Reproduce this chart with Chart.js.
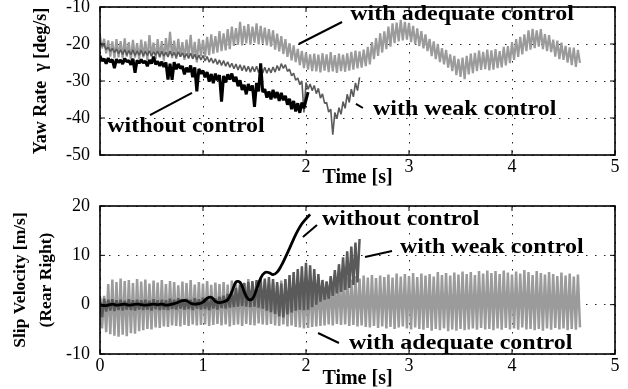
<!DOCTYPE html>
<html>
<head>
<meta charset="utf-8">
<script src="https://cdn.jsdelivr.net/npm/chart.js@4/dist/chart.umd.min.js"></script>
<style>
html, body { margin: 0; padding: 0; background: #fff; }
.caja { position: absolute; left: 0; width: 628px; }
#cajaSuperior { top: 0; height: 190px; }
#cajaInferior { top: 190px; height: 199px; }
</style>
</head>
<body>
<div class="caja" id="cajaSuperior"><canvas id="graficoYaw"></canvas></div>
<div class="caja" id="cajaInferior"><canvas id="graficoDeslizamiento"></canvas></div>
<script>

// muestreo de las senales (s)
const paso = 0.02;
const pasoSuave = 0.04;

const ticksTiempo = [0, 1, 2, 3, 4, 5];
const ticksYaw = [-50, -40, -30, -20, -10];
const ticksDesliz = [-10, 0, 10, 20];

const series = ["without control", "with weak control", "with adequate control"];

// Yaw rate [deg/s]
const yawSinControl = [
    -23.2, -24.6, -24.0, -25.3, -23.8, -24.9, -24.2, -26.5, -24.1, -25.0,
    -24.3, -25.4, -23.9, -24.8, -24.5, -25.6, -24.0, -27.8, -24.4, -25.2,
    -24.2, -25.1, -24.6, -26.0, -24.3, -25.3, -23.4, -25.5, -24.7, -25.9,
    -24.8, -26.2, -25.0, -29.6, -25.3, -29.7, -24.9, -26.8, -25.4, -26.6,
    -26.0, -28.2, -26.4, -27.6, -25.8, -29.0, -26.3, -32.8, -26.7, -28.0,
    -27.2, -29.0, -27.6, -30.2, -28.1, -30.6, -28.0, -29.8, -28.4, -35.6,
    -28.6, -30.4, -28.2, -29.6, -28.0, -30.2, -28.9, -31.4, -29.8, -32.4,
    -31.0, -33.6, -30.8, -32.6, -31.2, -37.0, -30.5, -32.8, -25.2, -33.0,
    -32.2, -34.5, -32.8, -35.0, -32.4, -34.6, -33.0, -35.4, -33.2, -35.2,
    -34.0, -36.4, -34.8, -37.6, -35.4, -38.2, -36.0, -38.6, -35.8, -37.4,
    -35.2, -33.0
];

const yawControlDebil = [
    -19.5, -20.6, -20.3, -21.5, -20.9, -22.0, -21.2, -22.3, -21.4, -22.6,
    -21.6, -22.8, -21.5, -23.0, -21.8, -22.9, -21.6, -23.1, -21.9, -23.0,
    -21.7, -23.2, -22.0, -23.1, -21.8, -23.3, -22.1, -23.0, -21.9, -23.4,
    -22.0, -23.3, -22.2, -23.5, -21.9, -23.2, -22.3, -23.6, -22.1, -23.4,
    -22.4, -23.7, -22.6, -23.9, -22.5, -24.0, -22.8, -24.2, -23.0, -24.3,
    -23.1, -24.6, -23.4, -24.9, -23.8, -25.2, -24.0, -25.5, -24.3, -25.8,
    -24.5, -26.0, -24.8, -26.3, -25.2, -26.7, -25.4, -27.0, -25.6, -27.2,
    -25.8, -27.4, -26.0, -27.6, -26.1, -27.5, -26.0, -27.7, -26.2, -27.8,
    -26.3, -27.9, -26.5, -27.8, -26.2, -27.6, -25.8, -27.2, -25.3, -26.6,
    -25.6, -27.4, -26.8, -28.6, -27.9, -29.8, -29.2, -31.0, -30.0, -38.5,
    -30.4, -32.2, -30.8, -32.6, -31.2, -33.4, -32.0, -34.6, -33.5, -36.0,
    -35.8, -38.4, -37.6, -44.5, -38.5, -40.2, -37.2, -39.0, -35.6, -37.4,
    -33.6, -35.8, -32.2, -34.3, -30.5, -32.6, -29.0
];

const yawControlAdecuado = [
    -17.8, -21.2, -18.6, -22.5, -19.0, -23.4, -19.3, -23.8, -18.7, -23.6,
    -19.2, -23.9, -18.5, -23.4, -19.5, -24.2, -18.9, -23.7, -19.8, -24.0,
    -18.8, -23.6, -19.3, -24.3, -17.6, -23.3, -19.6, -24.1, -18.7, -23.7,
    -19.2, -24.5, -18.4, -23.2, -16.7, -23.8, -19.1, -24.0, -18.6, -23.5,
    -19.5, -24.3, -18.8, -23.6, -17.5, -23.9, -19.4, -25.0, -18.6, -23.3,
    -18.9, -23.5, -18.1, -23.0, -17.4, -22.6, -17.9, -22.3, -16.5, -21.9,
    -17.1, -21.7, -16.0, -21.4, -15.3, -20.5, -15.7, -20.2, -14.0, -20.4,
    -15.1, -19.8, -14.6, -20.2, -15.3, -19.6, -14.4, -20.1, -15.1, -19.9,
    -15.6, -20.4, -16.0, -20.7, -16.3, -21.5, -17.2, -22.0, -17.9, -22.7,
    -18.7, -23.5, -19.8, -24.4, -20.4, -24.9, -21.3, -25.7, -21.9, -26.5,
    -22.3, -26.9, -22.8, -27.3, -22.6, -27.4, -22.9, -27.7, -22.5, -27.2,
    -22.8, -27.6, -22.2, -27.4, -23.0, -27.8, -22.6, -27.3, -22.9, -27.5,
    -22.5, -27.2, -22.1, -26.9, -21.8, -26.6, -22.0, -26.4, -21.5, -26.0,
    -20.8, -25.5, -19.5, -24.1, -18.4, -23.2, -17.1, -22.3, -16.6, -21.4,
    -15.3, -20.7, -14.4, -19.8, -14.2, -19.3, -13.5, -19.0, -14.0, -18.8,
    -14.3, -19.5, -15.1, -20.1, -15.8, -20.6, -16.5, -21.2, -17.4, -21.9,
    -18.6, -23.3, -19.3, -24.1, -20.0, -24.9, -21.1, -25.5, -21.6, -26.4,
    -22.8, -27.3, -23.2, -28.4, -24.0, -28.9, -23.7, -29.5, -23.2, -28.2,
    -22.6, -27.9, -22.4, -27.3, -21.8, -27.0, -22.1, -26.8, -21.5, -27.1,
    -21.7, -26.9, -21.4, -26.5, -21.9, -26.3, -20.8, -25.8, -20.6, -25.2,
    -19.5, -24.3, -18.7, -23.5, -18.1, -22.8, -17.4, -21.9, -16.3, -21.5,
    -15.9, -21.1, -16.3, -20.7, -16.0, -21.4, -17.3, -21.9, -17.6, -22.2,
    -18.8, -23.4, -19.1, -24.1, -19.6, -24.3, -20.5, -25.0, -20.9, -25.7,
    -21.0, -26.2, -21.6, -25.1
];

// Slip velocity rear right [m/s]
const deslizSinControl = [
    0, -0.2, -0.1, 0.1, -0.1, 0, 0.1, -0.1, 0, 0.1,
    0, -0.1, 0, 0.1, 0, 0.1, -0.1, 0, 0.2, 0.5,
    0.8, 0.8, 0.3, 0.1, 0.2, 0.5, 1.3, 1.5, 0.7, 0.4,
    0.6, 1.0, 2.6, 4.6, 4.5, 2.6, 1.1, 1.2, 3.1, 5.4,
    6.5, 6.5, 6.1, 6.6, 7.9, 9.6, 11.4, 13.3, 15.0, 16.4,
    17.4, 18.3
];

const deslizControlDebil = [
    1.5, -2.5, 1.2, -1.4, 1.0, -1.2, 1.1, -1.3, 0.9, -1.1,
    1.0, -1.2, 0.8, -1.0, 1.1, -1.1, 0.9, -1.2, 1.0, -1.0,
    0.9, -1.1, 1.0, -1.0, 0.8, -1.2, 1.1, -0.9, 0.9, -1.1,
    1.0, -1.0, 0.9, -1.1, 1.2, -0.9, 1.0, -1.0, 1.3, -0.8,
    1.1, -1.0, 1.2, -0.9, 1.0, -1.1, 1.3, -0.8, 1.1, -1.0,
    1.4, -0.9, 1.2, -1.1, 1.5, -0.8, 1.3, -1.0, 1.6, -0.7,
    1.8, -0.8, 2.2, -0.6, 2.8, -0.5, 3.4, -0.4, 4.0, -0.3,
    4.4, -0.4, 4.6, -0.5, 4.8, -0.4, 5.0, -0.6, 5.2, -0.8,
    5.3, -1.2, 5.6, -1.5, 5.2, -1.9, 4.6, -2.4, 4.3, -2.6,
    5.2, -2.0, 6.0, -1.6, 6.6, -1.2, 7.2, -1.0, 7.8, -1.1,
    8.5, -1.0, 8.0, -0.5, 7.2, 0.0, 6.2, 0.6, 5.0, 1.0,
    4.6, 1.2, 5.8, 1.8, 7.0, 2.3, 8.2, 2.6, 9.6, 3.0,
    10.8, 3.4, 11.8, 4.0, 12.6, 4.5, 13.3
];

const deslizControlAdecuado = [
    0.5, -4.8, 1.8, -5.6, 4.2, -6.0, 5.1, -6.3, 4.6, -6.5,
    5.3, -6.1, 4.8, -6.4, 5.0, -5.8, 4.4, -5.9, 5.2, -5.4,
    4.7, -5.2, 5.1, -4.9, 4.3, -5.0, 4.9, -4.6, 4.5, -4.7,
    5.0, -4.4, 4.2, -4.5, 4.8, -4.2, 4.6, -4.3, 3.9, -4.4,
    4.7, -4.1, 4.4, -4.3, 5.0, -4.0, 4.1, -4.2, 4.6, -4.1,
    4.3, -4.0, 4.8, -4.3, 4.0, -4.1, 4.5, -3.9, 4.2, -4.2,
    4.6, -4.0, 4.1, -4.4, 4.9, -4.1, 4.3, -4.0, 4.7, -4.3,
    4.4, -3.9, 5.2, -4.1, 4.0, -4.2, 4.6, -3.8, 4.3, -4.0,
    4.8, -4.1, 4.2, -3.9, 4.5, -4.2, 4.0, -4.3, 4.9, -4.0,
    4.3, -4.4, 4.6, -4.2, 4.1, -4.5, 4.7, -4.6, 4.4, -4.8,
    4.5, -4.7, 4.9, -4.5, 4.3, -4.4, 5.0, -4.3, 4.6, -4.2,
    4.8, -4.0, 5.3, -4.2, 4.9, -3.9, 5.5, -4.1, 5.2, -4.0,
    5.6, -4.3, 5.1, -4.1, 5.8, -4.4, 5.3, -4.2, 5.9, -4.5,
    5.5, -4.6, 6.0, -4.3, 5.4, -4.7, 5.9, -4.4, 5.6, -4.8,
    6.1, -4.5, 5.5, -4.9, 6.3, -4.6, 5.7, -4.4, 6.2, -4.8,
    5.8, -5.0, 6.4, -4.6, 5.6, -4.9, 6.3, -5.1, 5.9, -4.7,
    6.2, -5.3, 5.7, -4.9, 6.6, -5.2, 6.0, -4.8, 6.4, -5.4,
    5.9, -5.0, 6.5, -5.3, 6.1, -4.9, 6.7, -5.2, 6.2, -5.0,
    6.6, -4.8, 6.0, -5.1, 6.8, -4.7, 6.3, -5.0, 6.9, -4.9,
    6.4, -5.2, 6.8, -4.8, 6.2, -5.1, 6.9, -4.7, 6.5, -5.0,
    6.1, -4.8, 6.7, -5.1, 6.3, -4.6, 7.0, -5.0, 6.6, -4.9,
    6.0, -5.2, 6.8, -4.9, 6.4, -5.3, 6.1, -4.8, 6.6, -5.1,
    6.2, -4.7, 5.8, -5.0, 6.5, -4.8, 5.9, -5.2, 6.3, -4.9,
    5.7, -5.1, 6.1, -4.6
];

// notas: texto, punto donde empieza el texto y segmento indicador (en unidades del grafico)
const notasYaw = [
    { texto: series[2], x: 2.43, y: -12.2, linea: [1.93, -20.0, 2.35, -14.05] },
    { texto: series[1], x: 2.65, y: -37.8, linea: [2.485, -36.2, 2.553, -37.3] },
    { texto: series[0], x: 0.07, y: -42.4, linea: [0.485, -39.2, 0.893, -33.2] }
];

const notasDesliz = [
    { texto: series[0], x: 2.155, y: 17.2, linea: [1.97, 13.7, 2.107, 16.15] },
    { texto: series[1], x: 2.913, y: 11.5, linea: [2.573, 9.66, 2.835, 10.88] },
    { texto: series[2], x: 2.417, y: -7.95, linea: [2.117, -5.74, 2.32, -7.77] }
];

const fuenteTicks = { family: "'Liberation Serif', 'Times New Roman', serif", size: 18 };

function puntos(valores, dt) {

    return valores.map((v, i) => ({ x: i * dt, y: v }));

}

function serie(valores, dt, color, grosor, orden, suave) {

    return {
        data: puntos(valores, dt),
        borderColor: color,
        borderWidth: grosor,
        borderJoinStyle: "bevel",
        pointRadius: 0,
        tension: suave ? 0.4 : 0,
        order: orden
    };

}

// marco negro con marcas hacia dentro y las notas del grafico
const marcoYNotas = {

    id: "marcoYNotas",

    afterDraw(chart) {

        const ctx = chart.ctx;
        const a = chart.chartArea;
        const sx = chart.scales.x;
        const sy = chart.scales.y;

        ctx.save();

        ctx.strokeStyle = "#000";
        ctx.lineWidth = 1.6;
        ctx.strokeRect(a.left, a.top, a.right - a.left, a.bottom - a.top);

        ctx.lineWidth = 1;
        ctx.beginPath();
        ticksTiempo.forEach(t => {
            const px = sx.getPixelForValue(t);
            ctx.moveTo(px, a.bottom);
            ctx.lineTo(px, a.bottom - 5);
            ctx.moveTo(px, a.top);
            ctx.lineTo(px, a.top + 5);
        });
        sy.ticks.forEach(t => {
            const py = sy.getPixelForValue(t.value);
            ctx.moveTo(a.left, py);
            ctx.lineTo(a.left + 5, py);
            ctx.moveTo(a.right, py);
            ctx.lineTo(a.right - 5, py);
        });
        ctx.stroke();

        const notas = chart.options.plugins.marcoYNotas.notas;

        ctx.lineWidth = 2;
        ctx.fillStyle = "#000";
        ctx.font = "bold 20px 'Liberation Serif', 'Times New Roman', serif";
        ctx.textBaseline = "middle";
        ctx.textAlign = "left";

        notas.forEach(n => {

            ctx.beginPath();
            ctx.moveTo(sx.getPixelForValue(n.linea[0]), sy.getPixelForValue(n.linea[1]));
            ctx.lineTo(sx.getPixelForValue(n.linea[2]), sy.getPixelForValue(n.linea[3]));
            ctx.stroke();

            ctx.save();
            ctx.translate(sx.getPixelForValue(n.x), sy.getPixelForValue(n.y));
            ctx.scale(1.2, 1);
            ctx.fillText(n.texto, 0, 0);
            ctx.restore();

        });

        ctx.restore();

    }

};

function opciones(ticksY, tituloY, notas, arriba, ocultarX, tituloPad) {

    return {
        responsive: true,
        maintainAspectRatio: false,
        animation: false,
        events: [],
        layout: {
            padding: { top: arriba, right: 13, left: 0, bottom: 0 }
        },
        plugins: {
            legend: { display: false },
            tooltip: { enabled: false },
            marcoYNotas: { notas: notas }
        },
        scales: {
            x: {
                type: "linear",
                min: ticksTiempo[0],
                max: ticksTiempo[ticksTiempo.length - 1],
                afterBuildTicks: scale => {
                    scale.ticks = ticksTiempo.map(v => ({ value: v }));
                },
                afterFit: scale => {
                    scale.height = 35;
                    scale.paddingLeft = 0;
                    scale.paddingRight = 0;
                },
                ticks: {
                    font: fuenteTicks,
                    color: "#000",
                    padding: 1,
                    maxRotation: 0,
                    callback: v => (v < ocultarX ? "" : String(v))
                },
                grid: {
                    color: "#222",
                    lineWidth: 1,
                    drawTicks: false
                },
                border: { display: false, dash: [1.5, 7.5] },
                title: {
                    display: true,
                    text: "Time [s]",
                    color: "#000",
                    font: { family: fuenteTicks.family, size: 20, weight: "bold" },
                    padding: { top: 0, bottom: tituloPad }
                }
            },
            y: {
                min: ticksY[0],
                max: ticksY[ticksY.length - 1],
                afterBuildTicks: scale => {
                    scale.ticks = ticksY.map(v => ({ value: v }));
                },
                afterFit: scale => {
                    scale.width = 100;
                    scale.paddingTop = 0;
                    scale.paddingBottom = 0;
                },
                ticks: {
                    font: fuenteTicks,
                    color: "#000",
                    padding: 10
                },
                grid: {
                    color: "#222",
                    lineWidth: 1,
                    drawTicks: false
                },
                border: { display: false, dash: [1.5, 7.5] },
                title: tituloY
            }
        }
    };

}

new Chart(

    document.getElementById("graficoYaw"),

    {
        type: "line",
        data: {
            datasets: [
                serie(yawSinControl, paso, "#000000", 3, 1, false),
                serie(yawControlDebil, paso, "#5a5a5a", 1.6, 2, false),
                serie(yawControlAdecuado, paso, "#9b9b9b", 2.2, 3, false)
            ]
        },
        options: opciones(
            ticksYaw,
            {
                display: true,
                text: "Yaw Rate  \u03b3 [deg/s]",
                color: "#000",
                font: { family: fuenteTicks.family, size: 18, weight: "bold" },
                padding: { top: 31, bottom: 0 }
            },
            notasYaw,
            7,
            2,
            0
        ),
        plugins: [marcoYNotas]
    }

);

new Chart(

    document.getElementById("graficoDeslizamiento"),

    {
        type: "line",
        data: {
            datasets: [
                serie(deslizSinControl, pasoSuave, "#000000", 2.8, 1, true),
                serie(deslizControlDebil, paso, "#5a5a5a", 2.5, 2, false),
                serie(deslizControlAdecuado, paso, "#9b9b9b", 2.5, 3, false)
            ]
        },
        options: opciones(
            ticksDesliz,
            {
                display: true,
                text: ["Slip Velocity [m/s]", "(Rear Right)"],
                color: "#000",
                font: { family: fuenteTicks.family, size: 17.5, weight: "bold", lineHeight: 1.5 },
                padding: { top: 7, bottom: 0 }
            },
            notasDesliz,
            16,
            0,
            -2
        ),
        plugins: [marcoYNotas]
    }

);

</script>
</body>
</html>
